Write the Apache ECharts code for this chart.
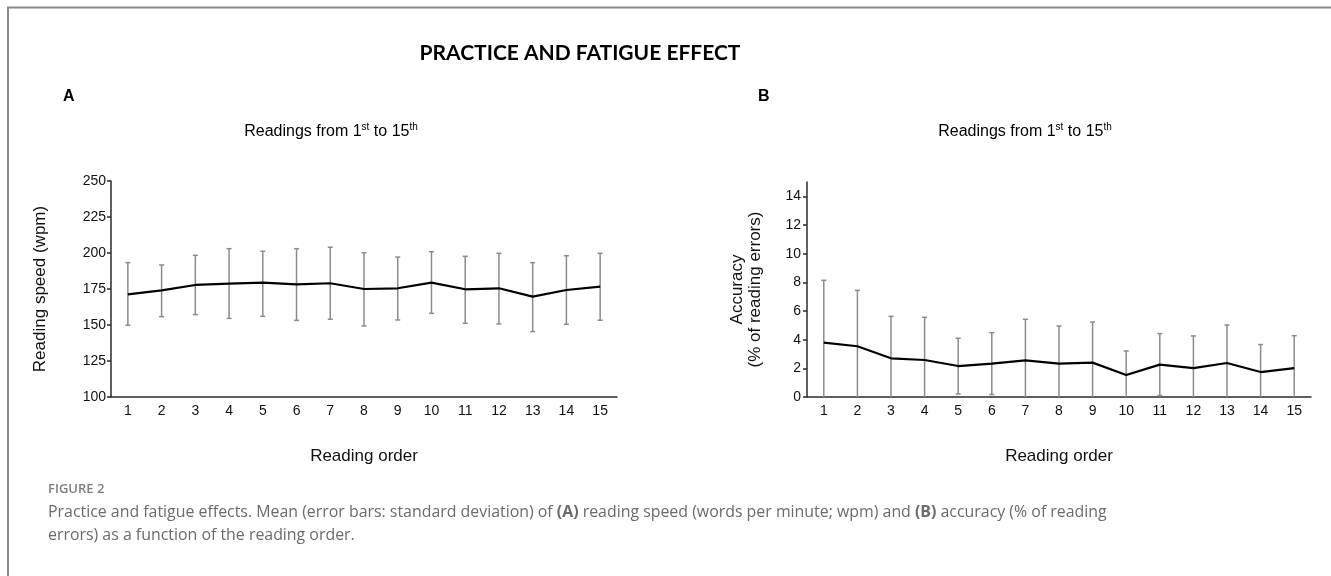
<!DOCTYPE html>
<html>
<head>
<meta charset="utf-8">
<script src="https://cdn.jsdelivr.net/npm/echarts@6/dist/echarts.min.js"></script>
<style>html,body{margin:0;padding:0;background:#fff}#c{width:1331px;height:576px}</style>
</head>
<body>
<div id="c"></div>
<script>
const categories = ['1','2','3','4','5','6','7','8','9','10','11','12','13','14','15'];
const speedMean = [171.3, 174.1, 177.8, 178.7, 179.4, 178.2, 179.0, 175.0, 175.5, 179.4, 174.8, 175.5, 169.7, 174.3, 176.6];
const speedHigh = [193.3, 191.7, 198.4, 203.0, 201.2, 203.0, 204.0, 200.2, 197.2, 200.9, 197.7, 199.8, 193.3, 198.1, 199.8];
const speedLow  = [149.8, 155.8, 157.2, 154.6, 156.0, 153.2, 154.0, 149.3, 153.5, 158.1, 151.2, 150.7, 145.4, 150.5, 153.3];
const accMean = [3.80, 3.54, 2.70, 2.58, 2.16, 2.33, 2.56, 2.33, 2.40, 1.54, 2.26, 2.02, 2.37, 1.74, 2.02];
const accSD   = [4.34, 3.90, 2.93, 2.98, 1.94, 2.16, 2.86, 2.62, 2.83, 1.67, 2.16, 2.24, 2.65, 1.92, 2.26];
const speedTicks = [100, 125, 150, 175, 200, 225, 250];
const accTicks = [0, 2, 4, 6, 8, 10, 12, 14];

const FONT = 'Liberation Sans, Arial, sans-serif';
const chart = echarts.init(document.getElementById('c'), null, {renderer: 'canvas'});

function errRender(clipZero) {
  return function (params, api) {
    const x = api.value(0), lo = api.value(1), hi = api.value(2);
    const loC = clipZero ? Math.max(0, lo) : lo;
    const pHi = api.coord([x, hi]);
    const pLo = api.coord([x, loC]);
    const hw = 2.5;
    const style = {stroke: '#8c8c8c', lineWidth: 1.5};
    const children = [
      {type: 'line', shape: {x1: pHi[0], y1: pHi[1], x2: pLo[0], y2: pLo[1]}, style},
      {type: 'line', shape: {x1: pHi[0] - hw, y1: pHi[1], x2: pHi[0] + hw, y2: pHi[1]}, style}
    ];
    if (!clipZero || lo >= 0) {
      children.push({type: 'line', shape: {x1: pLo[0] - hw, y1: pLo[1], x2: pLo[0] + hw, y2: pLo[1]}, style});
    }
    return {type: 'group', children};
  };
}

const speedErr = categories.map((c, i) => [i, speedLow[i], speedHigh[i]]);
const accErr = categories.map((c, i) => [i, accMean[i] - accSD[i], accMean[i] + accSD[i]]);

const axisLineStyle = {color: '#2b2b2b', width: 1.5};
const supRich = {
  n: {fontFamily: FONT, fontSize: 16, color: '#111', lineHeight: 18, verticalAlign: 'bottom'},
  s: {fontFamily: FONT, fontSize: 10, color: '#111', lineHeight: 13, verticalAlign: 'top', padding: [0, 0, 0, 0]}
};
const subtitleText = '{n|Readings from 1}{s|st}{n| to 15}{s|th}';

const option = {
  animation: false,
  backgroundColor: '#fff',
  grid: [
    {left: 111, top: 181, width: 506, height: 216},
    {left: 807, top: 182, width: 504, height: 215}
  ],
  xAxis: [0, 1].map(g => ({
    type: 'category', gridIndex: g, data: categories, boundaryGap: true,
    axisLine: {lineStyle: axisLineStyle},
    axisTick: {show: false},
    axisLabel: {fontFamily: FONT, fontSize: 14, color: '#111', margin: 7},
    name: 'Reading order', nameLocation: 'middle', nameGap: 51,
    nameTextStyle: {fontFamily: FONT, fontSize: 17, color: '#111'}
  })),
  yAxis: [
    {
      type: 'value', gridIndex: 0, min: 100, max: 250, interval: 25,
      splitLine: {show: false},
      axisLine: {show: true, lineStyle: axisLineStyle},
      axisTick: {show: true, length: 4, lineStyle: axisLineStyle},
      axisLabel: {fontFamily: FONT, fontSize: 14, color: '#111', margin: 5,
        customValues: speedTicks},
      name: 'Reading speed (wpm)', nameLocation: 'middle', nameGap: 62,
      nameTextStyle: {fontFamily: FONT, fontSize: 17, color: '#111'}
    },
    {
      type: 'value', gridIndex: 1, min: 0, max: 15, interval: 1,
      splitLine: {show: false},
      axisLine: {show: true, lineStyle: axisLineStyle},
      axisTick: {show: true, length: 4, lineStyle: axisLineStyle, customValues: accTicks},
      axisLabel: {fontFamily: FONT, fontSize: 14, color: '#111', margin: 6, customValues: accTicks},
      name: 'Accuracy\n(% of reading errors)', nameLocation: 'middle', nameGap: 43,
      nameTextStyle: {fontFamily: FONT, fontSize: 17, color: '#111', lineHeight: 18}
    }
  ],
  series: [
    {type: 'custom', xAxisIndex: 0, yAxisIndex: 0, data: speedErr, renderItem: errRender(false), z: 2},
    {type: 'line', xAxisIndex: 0, yAxisIndex: 0, data: speedMean, symbol: 'none',
      lineStyle: {color: '#000', width: 2.2}, z: 3},
    {type: 'custom', xAxisIndex: 1, yAxisIndex: 1, data: accErr, renderItem: errRender(true), z: 2},
    {type: 'line', xAxisIndex: 1, yAxisIndex: 1, data: accMean, symbol: 'none',
      lineStyle: {color: '#000', width: 2.2}, z: 3}
  ],
  graphic: [
    {type: 'rect', shape: {x: 8, y: 7.5, width: 1400, height: 700},
      style: {fill: 'none', stroke: '#8a8a8a', lineWidth: 2}, silent: true},
    {type: 'text', x: 580, y: 53, style: {text: 'PRACTICE AND FATIGUE EFFECT',
      font: 'bold 21px Lato, "Open Sans", sans-serif', fill: '#000', align: 'center', verticalAlign: 'middle'}},
    {type: 'text', x: 63, y: 97, style: {text: 'A', font: 'bold 16px ' + FONT, fill: '#000', verticalAlign: 'middle'}},
    {type: 'text', x: 758, y: 97, style: {text: 'B', font: 'bold 16px ' + FONT, fill: '#000', verticalAlign: 'middle'}},
    {type: 'text', x: 331, y: 131, style: {text: subtitleText, rich: supRich, align: 'center', verticalAlign: 'middle'}},
    {type: 'text', x: 1025, y: 131, style: {text: subtitleText, rich: supRich, align: 'center', verticalAlign: 'middle'}},
    {type: 'text', x: 48, y: 489, style: {text: 'FIGURE 2', font: '600 13px "Open Sans", sans-serif',
      fill: '#7f7f7f', verticalAlign: 'middle'}},
    {type: 'text', x: 48, y: 501, style: {
      text: 'Practice and fatigue effects. Mean (error bars: standard deviation) of {b|(A)} reading speed (words per minute; wpm) and {b|(B)} accuracy (% of reading\nerrors) as a function of the reading order.',
      font: '15.9px "Open Sans", sans-serif', fill: '#6b6b6b', lineHeight: 23,
      rich: {b: {fontFamily: 'Open Sans', fontSize: 15.9, fontWeight: 'bold', color: '#555'}}
    }}
  ]
};
chart.setOption(option);
</script>
</body>
</html>
